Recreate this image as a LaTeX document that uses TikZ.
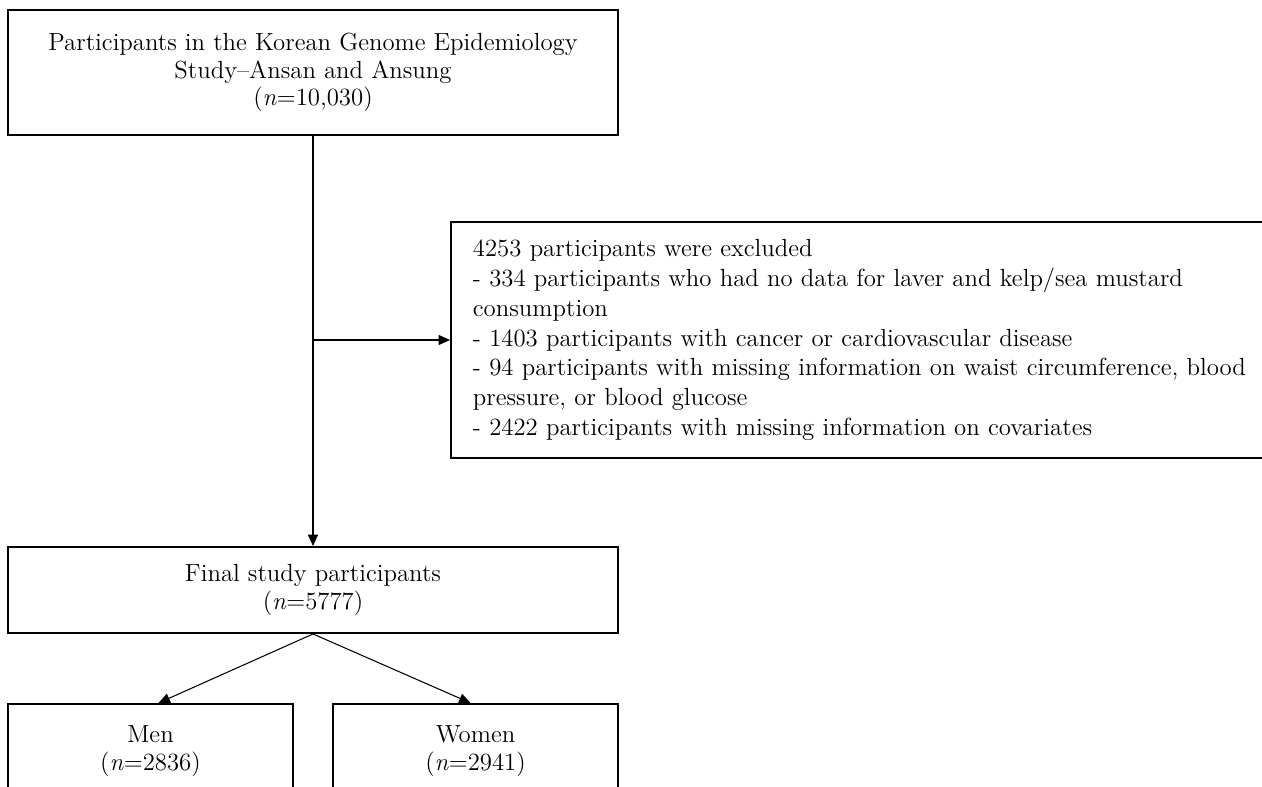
\documentclass[tikz,border=0pt]{standalone}
\usetikzlibrary{arrows.meta}
\begin{document}
\begin{tikzpicture}[x=0.02cm, y=-0.02cm, >={Triangle[length=6.5pt,width=5.7pt]},
  every node/.style={font=\fontsize{14.1}{15.8}\selectfont},
  box/.style={draw,line width=1.1pt,align=center,inner sep=0pt,minimum height=1.72cm},
  exclbox/.style={draw,line width=1.1pt,align=left,inner xsep=0.44cm,inner ysep=0pt,
    text width=16.5cm,minimum height=4.72cm,font=\fontsize{14.1}{17}\selectfont},
  link/.style={->,line width=0.6pt}]
\clip (0,0) rectangle (1262,787);
\node[box,minimum width=12.2cm,minimum height=2.5cm] (cohort) at (313,72.5) {Participants in the Korean Genome Epidemiology\\Study--Ansan and Ansung\\(\textit{n}=10,030)};
\node[exclbox,anchor=west] (excl) at (450,340) {4253 participants were excluded\\
- 334 participants who had no data for laver and kelp/sea mustard\\consumption\\
- 1403 participants with cancer or cardiovascular disease\\
- 94 participants with missing information on waist circumference, blood\\pressure, or blood glucose\\
- 2422 participants with missing information on covariates};
\node[box,minimum width=12.2cm] (final) at (313,590) {Final study participants\\(\textit{n}=5777)};
\node[box,minimum width=5.7cm,minimum height=1.9cm,anchor=north] (men) at (150.5,703) {Men\\(\textit{n}=2836)};
\node[box,minimum width=5.7cm,minimum height=1.9cm,anchor=north] (women) at (475.5,703) {Women\\(\textit{n}=2941)};
\coordinate (split) at (313,340);
\draw[link] (cohort) -- (final);
\draw[link] (split) -- (excl.west);
\draw[link] (final.south) -- ([xshift=0.16cm]men.north);
\draw[link] (final.south) -- ([xshift=-0.1cm]women.north);
\end{tikzpicture}
\end{document}
